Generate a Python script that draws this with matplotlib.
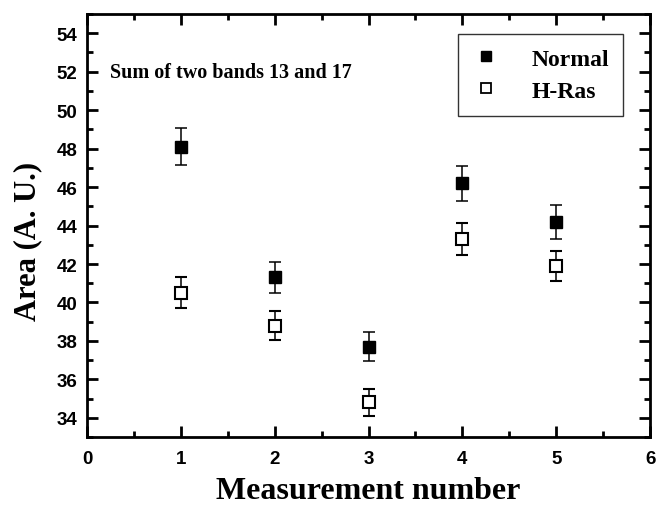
import matplotlib
matplotlib.use('Agg')
import matplotlib.pyplot as plt
from matplotlib.lines import Line2D
from matplotlib.ticker import MultipleLocator

# data
measurement = [1, 2, 3, 4, 5]
normal      = [48.1, 41.3, 37.7, 46.2, 44.2]
normal_err  = [0.95, 0.8, 0.76, 0.92, 0.88]
hras        = [40.5, 38.8, 34.8, 43.3, 41.9]
hras_err    = [0.8, 0.77, 0.68, 0.85, 0.8]

serif = 'Liberation Serif'
sans = 'Liberation Sans'

fig = plt.figure(figsize=(6.56, 5.10), dpi=100)
ax = fig.add_axes([0.1326, 0.141, 0.8584, 0.8296])

ax.errorbar(measurement, normal, yerr=normal_err, fmt='s', color='black',
            mfc='black', mec='black', ms=8, capsize=4, elinewidth=1.1,
            capthick=1.1)
ax.errorbar(measurement, hras, yerr=hras_err, fmt='s', color='black',
            mfc='white', mec='black', mew=1.5, ms=8, capsize=4, elinewidth=1.1,
            capthick=1.1)

ax.set_xlim(0, 6)
ax.set_ylim(33, 55)
ax.xaxis.set_major_locator(MultipleLocator(1))
ax.xaxis.set_minor_locator(MultipleLocator(0.5))
ax.yaxis.set_minor_locator(MultipleLocator(1))
ax.set_yticks(range(34, 55, 2))

ax.tick_params(which='both', direction='in', top=True, right=True, width=2)
ax.tick_params(which='major', length=8)
ax.tick_params(which='minor', length=4)
ax.tick_params(axis='y', pad=7)
ax.tick_params(axis='x', pad=9)
for s in ax.spines.values():
    s.set_linewidth(2)

for lab in ax.get_xticklabels() + ax.get_yticklabels():
    lab.set_fontfamily(sans)
    lab.set_fontweight('bold')
    lab.set_fontsize(13.5)

ax.set_xlabel('Measurement number', family=serif, weight='bold', fontsize=23, labelpad=7)
ax.set_ylabel('Area (A. U.)', family=serif, weight='bold', fontsize=22)
ax.yaxis.set_label_coords(-0.08, 0.465)

ax.text(0.041, 0.863, 'Sum of two bands 13 and 17', transform=ax.transAxes,
        family=serif, weight='bold', fontsize=14.5, va='center')

handles = [Line2D([], [], ls='none', marker='s', ms=7, mfc='black', mec='black'),
           Line2D([], [], ls='none', marker='s', ms=7, mfc='white', mec='black', mew=1.3)]
leg = ax.legend(handles, ['Normal', 'H-Ras'], loc='upper right',
                bbox_to_anchor=(0.952, 0.953), borderaxespad=0, frameon=True,
                fancybox=False, edgecolor='black', handletextpad=1.3,
                handlelength=1.2, borderpad=0.6, labelspacing=0.45,
                prop={'family': serif, 'weight': 'bold', 'size': 17})
leg.get_frame().set_linewidth(1)

fig.savefig('out.png', dpi=100)
